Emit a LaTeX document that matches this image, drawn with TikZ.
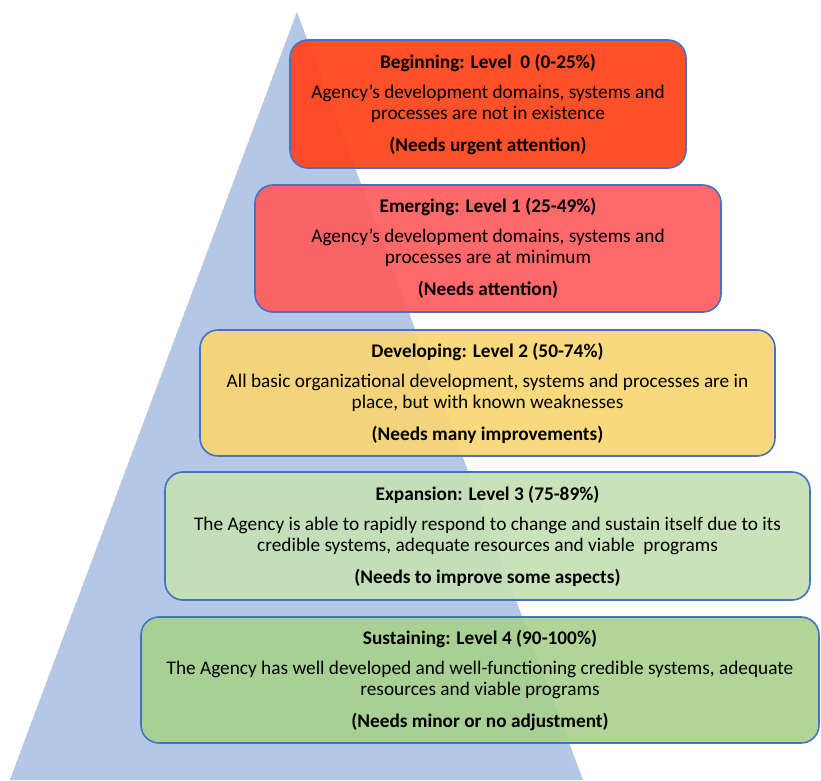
\documentclass[tikz,border=0pt]{standalone}
\usepackage{fontspec}
\setmainfont{Carlito}
\usetikzlibrary{positioning}

\definecolor{pyrblue}{HTML}{B4C7E7}
\definecolor{boxline}{HTML}{4472C4}
\definecolor{lvlzero}{HTML}{FF4217}
\definecolor{lvlone}{HTML}{FF5C5C}
\definecolor{lvltwo}{HTML}{F9D673}
\definecolor{lvlthree}{HTML}{C5E0B4}
\definecolor{lvlfour}{HTML}{A9D18E}

\begin{document}
\begin{tikzpicture}[x=1pt,y=-1pt,
    lvlbox/.style={draw=boxline,line width=1.6pt,rounded corners=18pt,
                   fill opacity=0.92,text opacity=1,align=center,inner sep=0pt,
                   font=\fontsize{19.3}{21}\selectfont}]
  \useasboundingbox (0,0) rectangle (821,780);

  % pyramid behind the levels
  \coordinate (top) at (297,12);
  \coordinate (bl) at (10,780);
  \coordinate (br) at (583,780);
  \fill[pyrblue] (top) -- (br) -- (bl) -- cycle;
  \draw[gray!45,dashed,line width=0.4pt] (bl) -- (top);

  \node[lvlbox,fill=lvlzero,minimum width=396pt,minimum height=128pt] (lvl0) at (488,104)
    {\textbf{Beginning: Level \ 0 (0-25\%)}\\[9pt]
     Agency’s development domains, systems and\\
     processes are not in existence\\[11pt]
     \textbf{(Needs urgent attention)}};
  \node[lvlbox,fill=lvlone,minimum width=466pt,minimum height=127pt] (lvl1) at (488,248.5)
    {\textbf{Emerging: Level 1 (25-49\%)}\\[9pt]
     Agency’s development domains, systems and\\
     processes are at minimum\\[11pt]
     \textbf{(Needs attention)}};
  \node[lvlbox,fill=lvltwo,minimum width=575pt,minimum height=126pt] (lvl2) at (487.5,393)
    {\textbf{Developing: Level 2 (50-74\%)}\\[9pt]
     All basic organizational development, systems and processes are in\\
     place, but with known weaknesses\\[11pt]
     \textbf{(Needs many improvements)}};
  \node[lvlbox,fill=lvlthree,minimum width=645pt,minimum height=128pt] (lvl3) at (487.5,536)
    {\textbf{Expansion: Level 3 (75-89\%)}\\[9pt]
     The Agency is able to rapidly respond to change and sustain itself due to its\\
     credible systems, adequate resources and viable \ programs\\[11pt]
     \textbf{(Needs to improve some aspects)}};
  \node[lvlbox,fill=lvlfour,minimum width=678pt,minimum height=126pt] (lvl4) at (480,680)
    {\textbf{Sustaining: Level 4 (90-100\%)}\\[9pt]
     The Agency has well developed and well-functioning credible systems, adequate\\
     resources and viable programs\\[11pt]
     \textbf{(Needs minor or no adjustment)}};
\end{tikzpicture}
\end{document}
